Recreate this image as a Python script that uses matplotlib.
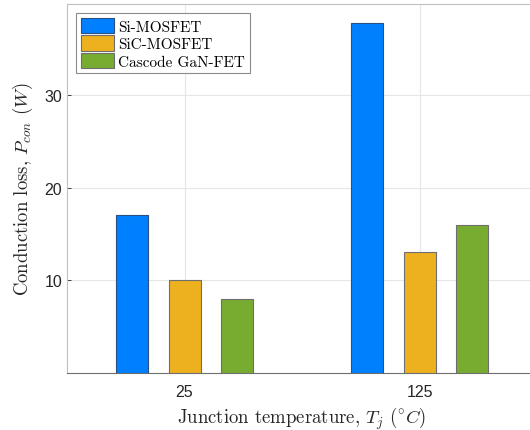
import numpy as np
import matplotlib.pyplot as plt

plt.rcParams["mathtext.fontset"] = "cm"
plt.rcParams["font.family"] = ["Liberation Sans", "DejaVu Sans"]
plt.rcParams["axes.unicode_minus"] = False

temps = ["25", "125"]
devices = ["Si-MOSFET", "SiC-MOSFET", "Cascode GaN-FET"]
si_mosfet = [17.0, 37.8]
sic_mosfet = [10.0, 13.0]
gan_fet = [8.0, 16.0]
colors = ["#0080ff", "#edb120", "#77ac30"]
edges = ["#2a4f80", "#6e6e6e", "#6e6e6e"]

fig = plt.figure(figsize=(5.30, 4.31), dpi=100)
ax = fig.add_axes([0.1264, 0.1323, 0.887, 0.8561])

x = np.arange(1, len(temps) + 1)
offsets = [-0.222, 0.0, 0.222]
for vals, off, c, ec, name in zip([si_mosfet, sic_mosfet, gan_fet], offsets, colors, edges, devices):
    ax.bar(x + off, vals, width=0.136, color=c, edgecolor=ec, linewidth=0.8,
           label=name, zorder=3)

ax.set_xlim(0.5, 2.5)
ax.set_ylim(0, 39.8)
ax.set_xticks(x)
ax.set_xticklabels(temps)
ax.set_yticks([10, 20, 30])

ax.grid(True, color="#e6e6e6", linewidth=0.8, zorder=0)
ax.set_axisbelow(True)
for s in ["left", "top", "right"]:
    ax.spines[s].set_color("#c0c0c0")
ax.spines["bottom"].set_color("#6e6e6e")
ax.tick_params(direction="in", length=3, colors="#262626", labelsize=11.5, width=0.6)
ax.tick_params(axis="x", pad=8)

ax.set_xlabel(r"Junction temperature, $T_j$ $(^{\circ}C)$", fontsize=13.5, family="cmr10",
              labelpad=4, color="#262626")
ax.set_ylabel(r"Conduction loss, $P_{con}$ $(W)$", fontsize=13.5, family="cmr10",
              labelpad=7, color="#262626")

leg = ax.legend(loc="upper left", bbox_to_anchor=(0.0, 1.0), prop={"family": "cmr10", "size": 11},
                fancybox=False, edgecolor="#8c8c8c", framealpha=1, handlelength=2.2,
                handleheight=1.15, borderpad=0.3, labelspacing=0.12, handletextpad=0.25,
                borderaxespad=0.6)
leg.get_frame().set_linewidth(0.8)

fig.savefig("out.png", dpi=100)
